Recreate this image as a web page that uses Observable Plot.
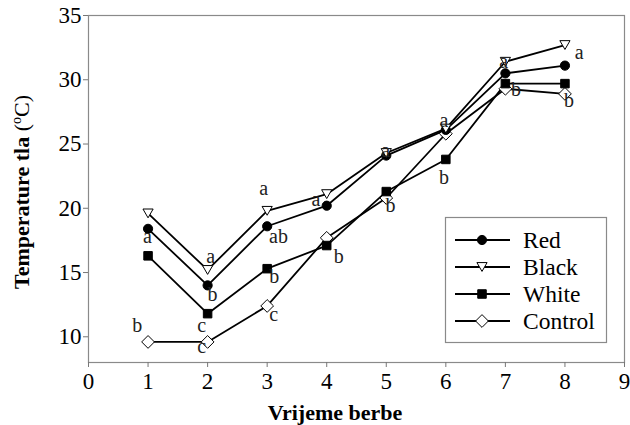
<!DOCTYPE html>
<html>
<head>
<meta charset="utf-8">
<script src="https://cdn.jsdelivr.net/npm/d3@7"></script>
<script src="https://cdn.jsdelivr.net/npm/@observablehq/plot@0.6"></script>
<style>
  html, body { margin: 0; padding: 0; background: #fff; }
  #chart { width: 630px; height: 425px; }
</style>
</head>
<body>
<div id="chart"></div>
<script>
// ---- data ----
const harvest = [1, 2, 3, 4, 5, 6, 7, 8];
const red     = [18.4, 14.0, 18.6, 20.2, 24.1, 26.1, 30.5, 31.1];
const black   = [19.6, 15.2, 19.8, 21.1, 24.3, 26.2, 31.4, 32.7];
const white   = [16.3, 11.8, 15.3, 17.1, 21.3, 23.8, 29.7, 29.7];
const control = [9.6, 9.6, 12.4, 17.7, 20.8, 25.8, 29.3, 28.9];
const seriesNames = ["Red", "Black", "White", "Control"];
const xTicks = [0, 1, 2, 3, 4, 5, 6, 7, 8, 9];
const yTicks = [10, 15, 20, 25, 30, 35];
// significance letters (text, x, y in data units)
const labelText = ["b", "a", "a", "b", "c", "c", "a", "ab", "b", "c", "a", "b", "b", "a", "a", "b", "a", "b", "a", "b"];
const labelX    = [0.82, 0.99, 2.05, 2.08, 1.9, 1.9, 2.94, 3.19, 3.12, 3.11, 3.82, 4.2, 5.07, 4.99, 5.97, 5.97, 6.97, 7.18, 8.24, 8.07];
const labelY    = [10.9, 17.8, 16.25, 13.3, 10.9, 9.2, 21.5, 17.8, 14.7, 11.7, 20.7, 16.25, 20.2, 24.5, 26.8, 22.35, 31.4, 29.2, 32.1, 28.4];

// ---- build ----
const values = [red, black, white, control];
const rows = [];
seriesNames.forEach((s, i) => harvest.forEach((h, j) => rows.push({series: s, x: h, y: values[i][j]})));
const labels = labelText.map((t, i) => ({t, x: labelX[i], y: labelY[i]}));

const triangleDown = {
  draw(ctx, size) {
    const s = Math.sqrt(size) * 1.25;
    const h = s * 0.866;
    ctx.moveTo(-s / 2, -h / 2);
    ctx.lineTo(s / 2, -h / 2);
    ctx.lineTo(0, h / 2);
    ctx.closePath();
  }
};
const diamond = {
  draw(ctx, size) {
    const r = Math.sqrt(size) * 0.72;
    ctx.moveTo(0, -r);
    ctx.lineTo(r, 0);
    ctx.lineTo(0, r);
    ctx.lineTo(-r, 0);
    ctx.closePath();
  }
};
const style = {
  Red:     {symbol: "circle", fill: "black", r: 4.6},
  Black:   {symbol: triangleDown, fill: "white", r: 4.6},
  White:   {symbol: "square", fill: "black", r: 4.8},
  Control: {symbol: diamond, fill: "white", r: 5}
};

const serif = "Liberation Serif";
const drawOrder = ["Control", "White", "Red", "Black"];
const marks = [
  Plot.frame({stroke: "#8a8a8a", strokeWidth: 1.2}),
  Plot.axisY({ticks: yTicks, tickSize: 5, tickPadding: 2, fontSize: 23, label: null, stroke: "#777", fontFamily: serif}),
  Plot.axisX({ticks: xTicks, tickSize: 5, tickPadding: 5, fontSize: 23, label: null, stroke: "#777", fontFamily: serif}),
  ...drawOrder.map(s => Plot.line(rows.filter(d => d.series === s), {x: "x", y: "y", stroke: "black", strokeWidth: 1.8})),
  ...drawOrder.map(s => Plot.dot(rows.filter(d => d.series === s), {
    x: "x", y: "y", symbol: () => s, r: style[s].r, fill: style[s].fill, stroke: "black", strokeWidth: 1
  })),
  Plot.text(labels, {x: "x", y: "y", text: "t", fontSize: 20, fill: "#222", fontFamily: serif})
];

const chart = Plot.plot({
  width: 630,
  height: 425,
  marginLeft: 88,
  marginRight: 6,
  marginTop: 15,
  marginBottom: 63,
  x: {domain: [0, 9]},
  y: {domain: [8, 35]},
  symbol: {domain: seriesNames, range: seriesNames.map(s => style[s].symbol)},
  style: {fontFamily: serif, color: "black", background: "white"},
  marks
});
document.getElementById("chart").appendChild(chart);

// ---- titles and legend ----
const svg = d3.select(chart);
const yt = svg.append("text")
  .attr("transform", "translate(29,192) rotate(-90)")
  .attr("text-anchor", "middle")
  .style("font-family", serif).style("font-size", "22px").attr("fill", "black");
yt.append("tspan").style("font-weight", "bold").text("Temperature tla ");
yt.append("tspan").text("(");
yt.append("tspan").style("font-size", "14px").attr("dy", -8).text("o");
yt.append("tspan").attr("dy", 8).text("C)");

svg.append("text")
  .attr("x", 335).attr("y", 420)
  .attr("text-anchor", "middle")
  .style("font-family", serif).style("font-size", "22px").style("font-weight", "bold").attr("fill", "black")
  .text("Vrijeme berbe");

const lg = svg.append("g");
lg.append("rect").attr("x", 445.5).attr("y", 217.5).attr("width", 161).attr("height", 125)
  .attr("fill", "white").attr("stroke", "#8a8a8a").attr("stroke-width", 1.2);
seriesNames.forEach((s, i) => {
  const cy = 240 + i * 27;
  lg.append("line").attr("x1", 455).attr("x2", 510).attr("y1", cy).attr("y2", cy)
    .attr("stroke", "black").attr("stroke-width", 1.8);
  const st = style[s];
  const symType = st.symbol === "circle" ? d3.symbolCircle : st.symbol === "square" ? d3.symbolSquare : st.symbol;
  lg.append("path").attr("transform", `translate(482,${cy})`)
    .attr("d", d3.symbol(symType, Math.PI * st.r * st.r)())
    .attr("fill", st.fill).attr("stroke", "black").attr("stroke-width", 1);
  lg.append("text").attr("x", 523).attr("y", cy).attr("dy", "0.34em")
    .attr("text-anchor", "start")
    .style("font-family", serif).style("font-size", "23.5px").attr("fill", "black").text(s);
});
</script>
</body>
</html>
